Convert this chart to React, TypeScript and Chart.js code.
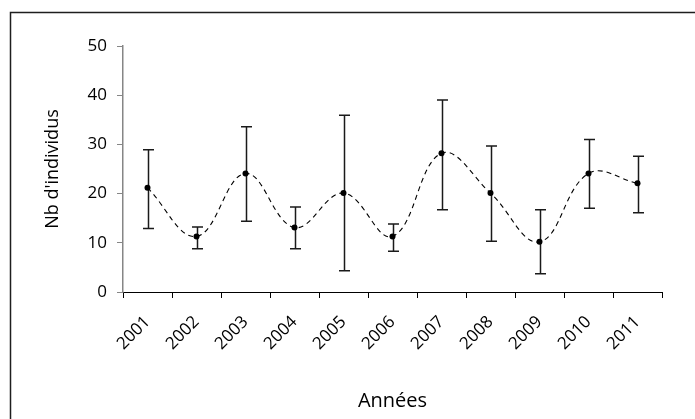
import React, { useEffect, useRef } from 'react';
import { Chart, registerables } from 'chart.js';

Chart.register(...registerables);

const years = ['2001', '2002', '2003', '2004', '2005', '2006', '2007', '2008', '2009', '2010', '2011'];
const means = [21.2, 11.3, 24.1, 13.1, 20.1, 11.3, 28.2, 20.1, 10.2, 24.1, 22.1];
const upper = [28.9, 13.2, 33.6, 17.3, 35.9, 13.8, 39.0, 29.7, 16.7, 31.0, 27.6];
const lower = [12.9, 8.8, 14.4, 8.8, 4.3, 8.3, 16.7, 10.3, 3.7, 17.0, 16.1];
const yTicks = [0, 10, 20, 30, 40, 50];

const framePlugin = {
  id: 'frame',
  beforeDraw(chart: any) {
    const { ctx, width, height } = chart;
    ctx.save();
    ctx.fillStyle = '#ffffff';
    ctx.fillRect(0, 0, width, height);
    ctx.strokeStyle = '#1e1e1e';
    ctx.lineWidth = 1.5;
    ctx.beginPath();
    ctx.moveTo(10.5, height + 5);
    ctx.lineTo(10.5, 12.5);
    ctx.lineTo(width + 5, 12.5);
    ctx.stroke();
    ctx.restore();
  },
};

const errorBarPlugin = {
  id: 'errorBars',
  beforeDatasetsDraw(chart: any) {
    const { ctx } = chart;
    const xs = chart.scales.x;
    const ys = chart.scales.y;
    ctx.save();
    ctx.strokeStyle = '#1a1a1a';
    ctx.lineWidth = 1.5;
    years.forEach((_, i) => {
      const px = Math.round(xs.getPixelForValue(i)) + 0.5;
      const yt = ys.getPixelForValue(upper[i]);
      const yb = ys.getPixelForValue(lower[i]);
      ctx.beginPath();
      ctx.moveTo(px, yt);
      ctx.lineTo(px, yb);
      ctx.moveTo(px - 5.5, yt);
      ctx.lineTo(px + 5.5, yt);
      ctx.moveTo(px - 5.5, yb);
      ctx.lineTo(px + 5.5, yb);
      ctx.stroke();
    });
    ctx.restore();
  },
};

export default function App() {
  const ref = useRef<HTMLCanvasElement | null>(null);

  useEffect(() => {
    if (!ref.current) return;
    Chart.defaults.font.family = "'Open Sans', sans-serif";
    const chart = new Chart(ref.current, {
      type: 'line',
      data: {
        labels: years,
        datasets: [
          {
            data: means,
            borderColor: '#000000',
            borderWidth: 1.1,
            borderDash: [5, 4],
            tension: 0.4,
            fill: false,
            pointRadius: 3,
            pointBackgroundColor: '#000000',
            pointBorderColor: '#000000',
            pointBorderWidth: 0,
          },
        ],
      },
      options: {
        animation: false,
        responsive: false,
        events: [],
        layout: { padding: { top: 46, right: 33, left: 0, bottom: 0 } },
        plugins: {
          legend: { display: false },
          tooltip: { enabled: false },
        },
        scales: {
          x: {
            type: 'category',
            offset: true,
            grid: {
              offset: true,
              drawOnChartArea: false,
              drawTicks: true,
              tickLength: 6,
              color: '#000000',
              lineWidth: 1,
            },
            border: { display: true, color: '#000000', width: 1 },
            ticks: {
              autoSkip: false,
              minRotation: 45,
              maxRotation: 45,
              padding: 14,
              color: '#000000',
              font: { size: 17 },
            },
            title: {
              display: true,
              text: 'Années',
              color: '#000000',
              font: { size: 20 },
              padding: { top: 0, bottom: 6 },
            },
            afterFit: (s: any) => {
              s.height = 127;
            },
          },
          y: {
            min: 0,
            max: 50,
            afterBuildTicks: (s: any) => {
              s.ticks = yTicks.map((v) => ({ value: v }));
            },
            ticks: { padding: 10, color: '#000000', font: { size: 17 } },
            grid: { drawOnChartArea: false, tickLength: 6, color: '#868686', lineWidth: 1 },
            border: { display: true, color: '#868686', width: 1.5 },
            title: {
              display: true,
              text: "Nb d'individus",
              color: '#000000',
              font: { size: 18 },
              padding: { top: 42, bottom: 0 },
            },
            afterFit: (s: any) => {
              s.width = 123;
            },
          },
        },
      },
      plugins: [framePlugin, errorBarPlugin],
    });
    return () => chart.destroy();
  }, []);

  return (
    <div style={{ position: 'fixed', left: 0, top: 0, width: 695, height: 419, background: '#fff' }}>
      <canvas ref={ref} width={695} height={419} />
    </div>
  );
}
